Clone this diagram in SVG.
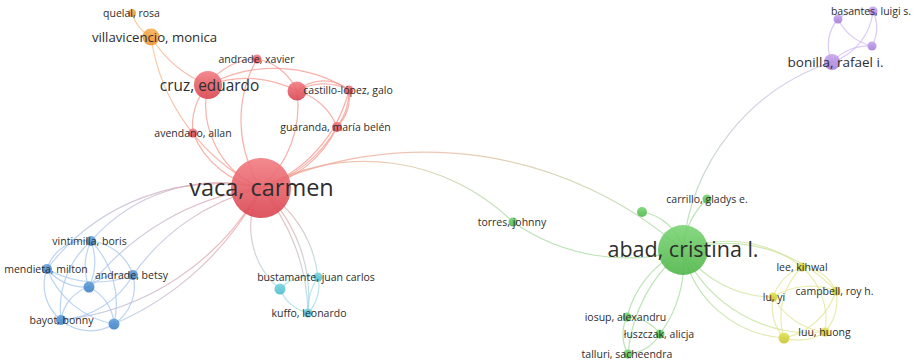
<svg xmlns="http://www.w3.org/2000/svg" width="915" height="364" viewBox="0 0 915 364">
  <defs>
    <!-- node fills: light on top, deeper at the bottom -->
    <linearGradient id="fr" x1="0" y1="0" x2="0" y2="1"><stop offset="0" stop-color="#f27c82"/><stop offset="1" stop-color="#d9434e"/></linearGradient>
    <linearGradient id="fo" x1="0" y1="0" x2="0" y2="1"><stop offset="0" stop-color="#f7b055"/><stop offset="1" stop-color="#ec9130"/></linearGradient>
    <linearGradient id="fb" x1="0" y1="0" x2="0" y2="1"><stop offset="0" stop-color="#62a0dc"/><stop offset="1" stop-color="#3f80c2"/></linearGradient>
    <linearGradient id="fc" x1="0" y1="0" x2="0" y2="1"><stop offset="0" stop-color="#78d4e0"/><stop offset="1" stop-color="#4dbccb"/></linearGradient>
    <linearGradient id="fg" x1="0" y1="0" x2="0" y2="1"><stop offset="0" stop-color="#7ad474"/><stop offset="1" stop-color="#4fb649"/></linearGradient>
    <linearGradient id="fy" x1="0" y1="0" x2="0" y2="1"><stop offset="0" stop-color="#e2e258"/><stop offset="1" stop-color="#c6c630"/></linearGradient>
    <linearGradient id="fp" x1="0" y1="0" x2="0" y2="1"><stop offset="0" stop-color="#c7a6ec"/><stop offset="1" stop-color="#a67cd8"/></linearGradient>
    <!-- links between clusters blend the two cluster colours -->
    <linearGradient id="lBR" x1="0" y1="0" x2="1" y2="0"><stop offset="0" stop-color="#a9c6ee"/><stop offset="1" stop-color="#f29a96"/></linearGradient>
    <linearGradient id="lRG" x1="0" y1="0" x2="1" y2="0"><stop offset="0" stop-color="#f29a90"/><stop offset="0.45" stop-color="#e6b89a"/><stop offset="1" stop-color="#a6dc9e"/></linearGradient>
    <linearGradient id="lRC" x1="0" y1="0" x2="0" y2="1"><stop offset="0" stop-color="#f2a09a"/><stop offset="1" stop-color="#9edce6"/></linearGradient>
    <linearGradient id="lOR" x1="0" y1="0" x2="0" y2="1"><stop offset="0" stop-color="#f8bf86"/><stop offset="1" stop-color="#f39a90"/></linearGradient>
    <linearGradient id="lGY" x1="0" y1="0" x2="1" y2="0"><stop offset="0" stop-color="#a6dc9e"/><stop offset="1" stop-color="#e3e597"/></linearGradient>
    <linearGradient id="lPG" x1="0" y1="0" x2="0" y2="1"><stop offset="0" stop-color="#cfb8f2"/><stop offset="1" stop-color="#a6dc9e"/></linearGradient>
  </defs>
  <style>
    .links path { fill: none; stroke-width: 1.2; stroke-linecap: round; opacity: 0.75; }
    .er { stroke: #f5978e; }
    .eo { stroke: #f8bf86; }
    .eb { stroke: #a6c6ee; }
    .ec { stroke: #9edce6; }
    .eg { stroke: #a6dc9e; }
    .ey { stroke: #e3e597; }
    .ep { stroke: #cfb8f2; }
    .xbr { stroke: url(#lBR); }
    .xrg { stroke: url(#lRG); }
    .xrc { stroke: url(#lRC); }
    .xor { stroke: url(#lOR); }
    .xgy { stroke: url(#lGY); }
    .xpg { stroke: url(#lPG); }
    .nr { fill: url(#fr); opacity: 0.9; }
    .no { fill: url(#fo); opacity: 0.9; }
    .nb { fill: url(#fb); opacity: 0.9; }
    .nc { fill: url(#fc); opacity: 0.9; }
    .ng { fill: url(#fg); opacity: 0.9; }
    .ny { fill: url(#fy); opacity: 0.9; }
    .np { fill: url(#fp); opacity: 0.9; }
    text { font-family: "Open Sans", "Noto Sans", "Liberation Sans", sans-serif; fill: #2e2e2e; text-anchor: middle; }
    .s { font-size: 10.5px; }
  </style>
  <rect width="915" height="364" fill="#ffffff"/>

  <g id="links" class="links">
    <!-- red cluster -->
    <path class="er" d="M208,85 A90,90 0 0 0 261,188"/>
    <path class="er" d="M208,85 A60,60 0 0 0 193,133"/>
    <path class="er" d="M193,133 A90,90 0 0 0 261,188"/>
    <path class="er" d="M257,59 A125,125 0 0 0 261,188"/>
    <path class="er" d="M208,85 A60,60 0 0 1 257,59"/>
    <path class="er" d="M257,59 A55,55 0 0 1 297,91"/>
    <path class="er" d="M208,85 A110,110 0 0 1 297,91"/>
    <path class="er" d="M208,85 A140,140 0 0 1 349,90"/>
    <path class="er" d="M297,91 A40,40 0 0 1 349,90"/>
    <path class="er" d="M297,91 A55,55 0 0 1 349,90"/>
    <path class="er" d="M349,90 A60,60 0 0 1 337,127"/>
    <path class="er" d="M349,90 A45,45 0 0 1 337,127"/>
    <path class="er" d="M297,91 A60,60 0 0 1 337,127"/>
    <path class="er" d="M261,188 A110,110 0 0 0 337,127"/>
    <path class="er" d="M261,188 A130,130 0 0 0 337,127"/>
    <path class="er" d="M261,188 A140,140 0 0 0 349,90"/>
    <path class="er" d="M261,188 A110,110 0 0 0 297,91"/>
    <!-- orange to red -->
    <path class="eo" d="M132,13 A40,40 0 0 0 151,37"/>
    <path class="xor" d="M151,37 A120,120 0 0 0 208,85"/>
    <path class="xor" d="M151,37 A200,200 0 0 0 261,188"/>
    <!-- blue cluster -->
    <path class="eb" d="M91,241 A40,40 0 0 0 47,269"/>
    <path class="eb" d="M91,241 A60,60 0 0 1 89,287"/>
    <path class="eb" d="M91,241 A60,60 0 0 0 89,287"/>
    <path class="eb" d="M91,241 A50,50 0 0 1 133,275"/>
    <path class="eb" d="M91,241 A90,90 0 0 0 61,320"/>
    <path class="eb" d="M91,241 A90,90 0 0 1 114,324"/>
    <path class="eb" d="M47,269 A50,50 0 0 0 89,287"/>
    <path class="eb" d="M47,269 A100,100 0 0 0 133,275"/>
    <path class="eb" d="M47,269 A45,45 0 0 0 61,320"/>
    <path class="eb" d="M47,269 A90,90 0 0 0 114,324"/>
    <path class="eb" d="M89,287 A50,50 0 0 1 133,275"/>
    <path class="eb" d="M89,287 A40,40 0 0 0 61,320"/>
    <path class="eb" d="M89,287 A45,45 0 0 1 114,324"/>
    <path class="eb" d="M133,275 A90,90 0 0 1 61,320"/>
    <path class="eb" d="M133,275 A45,45 0 0 1 114,324"/>
    <path class="eb" d="M61,320 A45,45 0 0 0 114,324"/>
    <!-- red to blue -->
    <path class="xbr" d="M261,188 A215,215 0 0 0 47,269"/>
    <path class="xbr" d="M261,188 A170,170 0 0 0 91,241"/>
    <path class="xbr" d="M261,188 A220,220 0 0 0 133,275"/>
    <path class="xbr" d="M261,188 A260,260 0 0 0 89,287"/>
    <path class="xbr" d="M261,188 A300,300 0 0 1 114,324"/>
    <path class="xbr" d="M261,188 A260,260 0 0 1 61,320"/>
    <!-- red to cyan, cyan cluster -->
    <path class="xrc" d="M261,188 A80,80 0 0 0 280,289"/>
    <path class="xrc" d="M261,188 A120,120 0 0 1 318,277"/>
    <path class="xrc" d="M261,188 A150,150 0 0 1 308,313"/>
    <path class="xrc" d="M261,188 A200,200 0 0 1 308,313"/>
    <path class="ec" d="M280,289 A40,40 0 0 1 318,277"/>
    <path class="ec" d="M280,289 A40,40 0 0 0 308,313"/>
    <path class="ec" d="M318,277 A40,40 0 0 1 308,313"/>
    <path class="ec" d="M318,277 A60,60 0 0 0 308,313"/>
    <!-- red to green -->
    <path class="xrg" d="M261,188 A390,390 0 0 1 683,250"/>
    <path class="xrg" d="M261,188 A213,213 0 0 1 513,222"/>
    <!-- green cluster -->
    <path class="eg" d="M513,222 A200,200 0 0 0 683,250"/>
    <path class="eg" d="M642,212 A50,50 0 0 1 683,250"/>
    <path class="eg" d="M683,250 A80,80 0 0 1 707,199"/>
    <path class="eg" d="M683,250 A100,100 0 0 0 627,317"/>
    <path class="eg" d="M683,250 A120,120 0 0 1 660,334"/>
    <path class="eg" d="M683,250 A150,150 0 0 0 628,354"/>
    <path class="eg" d="M627,317 A40,40 0 0 0 628,354"/>
    <path class="eg" d="M627,317 A40,40 0 0 1 660,334"/>
    <path class="eg" d="M660,334 A40,40 0 0 1 628,354"/>
    <!-- green to yellow, yellow cluster -->
    <path class="xgy" d="M683,250 A120,120 0 0 1 802,267"/>
    <path class="xgy" d="M683,250 A150,150 0 0 1 836,291"/>
    <path class="xgy" d="M683,250 A110,110 0 0 0 773,297"/>
    <path class="xgy" d="M683,250 A140,140 0 0 0 825,332"/>
    <path class="xgy" d="M683,250 A110,110 0 0 0 784,338"/>
    <path class="ey" d="M802,267 A40,40 0 0 1 836,291"/>
    <path class="ey" d="M802,267 A50,50 0 0 0 773,297"/>
    <path class="ey" d="M802,267 A70,70 0 0 1 825,332"/>
    <path class="ey" d="M802,267 A70,70 0 0 0 784,338"/>
    <path class="ey" d="M836,291 A70,70 0 0 0 773,297"/>
    <path class="ey" d="M836,291 A50,50 0 0 1 825,332"/>
    <path class="ey" d="M836,291 A70,70 0 0 1 784,338"/>
    <path class="ey" d="M773,297 A50,50 0 0 0 784,338"/>
    <path class="ey" d="M773,297 A70,70 0 0 0 825,332"/>
    <path class="ey" d="M784,338 A50,50 0 0 0 825,332"/>
    <!-- green to purple, purple cluster -->
    <path class="xpg" d="M683,250 A218,218 0 0 1 832,62"/>
    <path class="ep" d="M832,62 A40,40 0 0 1 838,19"/>
    <path class="ep" d="M832,62 A60,60 0 0 0 873,11"/>
    <path class="ep" d="M832,62 A50,50 0 0 1 872,46"/>
    <path class="ep" d="M838,19 A40,40 0 0 1 873,11"/>
    <path class="ep" d="M838,19 A50,50 0 0 0 872,46"/>
    <path class="ep" d="M873,11 A40,40 0 0 1 872,46"/>
  </g>

  <!-- unlabelled nodes -->
  <g id="n-red-castillo-2"><circle class="nr" cx="297" cy="91" r="9.5"/></g>
  <g id="n-blue-a"><circle class="nb" cx="89" cy="287" r="5.5"/></g>
  <g id="n-blue-b"><circle class="nb" cx="114" cy="324" r="5.5"/></g>
  <g id="n-cyan-a"><circle class="nc" cx="280" cy="289" r="5.5"/></g>
  <g id="n-green-a"><circle class="ng" cx="642" cy="212" r="5"/></g>
  <g id="n-yellow-a"><circle class="ny" cx="784" cy="338" r="5.5"/></g>
  <g id="n-purple-a"><circle class="np" cx="838" cy="19" r="4.5"/></g>
  <g id="n-purple-b"><circle class="np" cx="872" cy="46" r="4.5"/></g>

  <!-- red cluster -->
  <g id="n-vaca"><circle class="nr" cx="261" cy="188" r="30"/><text x="261.5" y="196" font-size="23.5">vaca, carmen</text></g>
  <g id="n-cruz"><circle class="nr" cx="208" cy="85" r="14"/><text x="209.5" y="90.5" font-size="15.4">cruz, eduardo</text></g>
  <g id="n-andrade-x"><circle class="nr" cx="257" cy="59" r="4.5"/><text class="s" x="256.5" y="63">andrade, xavier</text></g>
  <g id="n-castillo"><circle class="nr" cx="349" cy="90" r="4.5"/><text class="s" x="348" y="94">castillo-lópez, galo</text></g>
  <g id="n-guaranda"><circle class="nr" cx="337" cy="127" r="5"/><text class="s" x="335.5" y="131">guaranda, maría belén</text></g>
  <g id="n-avendano"><circle class="nr" cx="193" cy="133" r="4.5"/><text class="s" x="193" y="137">avendano, allan</text></g>

  <!-- orange cluster -->
  <g id="n-villavicencio"><circle class="no" cx="151" cy="37" r="8.5"/><text x="154.5" y="41.5" font-size="13.2">villavicencio, monica</text></g>
  <g id="n-quelal"><circle class="no" cx="132" cy="13" r="4"/><text class="s" x="131.5" y="16.5">quelal, rosa</text></g>

  <!-- blue cluster -->
  <g id="n-vintimilla"><circle class="nb" cx="91" cy="241" r="5"/><text class="s" x="89.5" y="244.5">vintimilla, boris</text></g>
  <g id="n-mendieta"><circle class="nb" cx="47" cy="269" r="5"/><text class="s" x="46" y="272.5">mendieta, milton</text></g>
  <g id="n-andrade-b"><circle class="nb" cx="133" cy="275" r="5"/><text class="s" x="131.5" y="278.5">andrade, betsy</text></g>
  <g id="n-bayot"><circle class="nb" cx="61" cy="320" r="5"/><text class="s" x="61.5" y="323.5">bayot, bonny</text></g>

  <!-- cyan cluster -->
  <g id="n-bustamante"><circle class="nc" cx="318" cy="277" r="4.5"/><text class="s" x="316" y="280.5">bustamante, juan carlos</text></g>
  <g id="n-kuffo"><circle class="nc" cx="308" cy="313" r="4.5"/><text class="s" x="309" y="317">kuffo, leonardo</text></g>

  <!-- green cluster -->
  <g id="n-abad"><circle class="ng" cx="683" cy="250" r="25"/><text x="683" y="257" font-size="21.5">abad, cristina l.</text></g>
  <g id="n-carrillo"><circle class="ng" cx="707" cy="199" r="4.5"/><text class="s" x="707" y="202.5">carrillo, gladys e.</text></g>
  <g id="n-torres"><circle class="ng" cx="513" cy="222" r="4.5"/><text class="s" x="512" y="225.5">torres, johnny</text></g>
  <g id="n-iosup"><circle class="ng" cx="627" cy="317" r="4.5"/><text class="s" x="625.5" y="320.5">iosup, alexandru</text></g>
  <g id="n-luszczak"><circle class="ng" cx="660" cy="334" r="4.5"/><text class="s" x="659" y="337.5">łuszczak, alicja</text></g>
  <g id="n-talluri"><circle class="ng" cx="628" cy="354" r="4.5"/><text class="s" x="627" y="357.5">talluri, sacheendra</text></g>

  <!-- yellow cluster -->
  <g id="n-lee"><circle class="ny" cx="802" cy="267" r="4.5"/><text class="s" x="802" y="270.5">lee, kihwal</text></g>
  <g id="n-campbell"><circle class="ny" cx="836" cy="291" r="4.5"/><text class="s" x="834.5" y="294.5">campbell, roy h.</text></g>
  <g id="n-luyi"><circle class="ny" cx="773" cy="297" r="4.5"/><text class="s" x="774" y="300.5">lu, yi</text></g>
  <g id="n-luu"><circle class="ny" cx="825" cy="332" r="4.5"/><text class="s" x="824.5" y="335.5">luu, huong</text></g>

  <!-- purple cluster -->
  <g id="n-bonilla"><circle class="np" cx="832" cy="62" r="8"/><text x="835.5" y="66.5" font-size="13.5">bonilla, rafael i.</text></g>
  <g id="n-basantes"><circle class="np" cx="873" cy="11" r="4.5"/><text class="s" x="871" y="14.5">basantes, luigi s.</text></g>
</svg>
